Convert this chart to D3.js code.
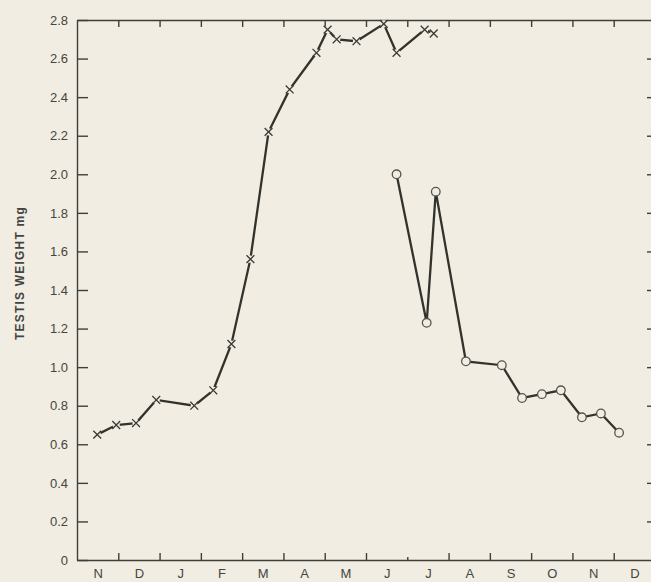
<!DOCTYPE html>
<html>
<head>
    <meta charset="utf-8">
    <title>Testis weight by month</title>
    <style>
        body { margin: 0; background: #f1ede2; }
        svg { display: block; }
        text { font-family: "Liberation Sans", Arial, sans-serif; fill: #444; }
        .axis path, .axis line { stroke: #3f3f3a; stroke-width: 1.4; }
        .axis text { font-size: 13px; fill: #454540; }
    </style>
</head>
<body>
    <svg width="651" height="582"></svg>
    <script src="https://d3js.org/d3.v7.min.js"></script>
    <script>
    // months along the bottom, Nov .. Dec of the next year
    var months = ["N", "D", "J", "F", "M", "A", "M", "J", "J", "A", "S", "O", "N", "D"];
    var weightTicks = [0, 0.2, 0.4, 0.6, 0.8, 1.0, 1.2, 1.4, 1.6, 1.8, 2.0, 2.2, 2.4, 2.6, 2.8];

    // x series: position in months from start of Nov, testis weight (mg)
    var crossMonth  = [0.49, 0.95, 1.43, 1.92, 2.84, 3.30, 3.74, 4.20, 4.64, 5.15, 5.80, 6.07, 6.29, 6.77, 7.43, 7.74, 8.42, 8.64];
    var crossWeight = [0.65, 0.70, 0.71, 0.83, 0.80, 0.88, 1.12, 1.56, 2.22, 2.44, 2.63, 2.75, 2.70, 2.69, 2.78, 2.63, 2.75, 2.73];

    // o series
    var circleMonth  = [7.74, 8.47, 8.69, 9.42, 10.29, 10.78, 11.26, 11.72, 12.23, 12.69, 13.13];
    var circleWeight = [2.00, 1.23, 1.91, 1.03, 1.01, 0.84, 0.86, 0.88, 0.74, 0.76, 0.66];

    var svg = d3.select("svg"),
        plotLeft = 77, plotRight = 655, plotTop = 20, plotBottom = 560,
        bg = "#f1ede2", ink = "#33332e";

    var x = d3.scaleLinear().domain([0, months.length]).range([plotLeft, plotRight]);
    var y = d3.scaleLinear().domain([0, 2.8]).range([plotBottom, plotTop]);

    var boundaries = d3.range(1, months.length);

    // left axis, ticks pointing in
    svg.append("g").attr("class", "axis")
        .attr("transform", "translate(" + plotLeft + ",0)")
        .call(d3.axisLeft(y).tickValues(weightTicks)
            .tickSizeInner(-11).tickSizeOuter(0).tickPadding(9)
            .tickFormat(function(d) { return d === 0 ? "0" : d.toFixed(1); }));

    // right axis, ticks only
    svg.append("g").attr("class", "axis")
        .attr("transform", "translate(" + plotRight + ",0)")
        .call(d3.axisRight(y).tickValues(weightTicks.slice(1, -1))
            .tickSizeInner(-8).tickSizeOuter(0).tickFormat(""));

    // top axis
    svg.append("g").attr("class", "axis")
        .attr("transform", "translate(0," + plotTop + ")")
        .call(d3.axisTop(x).tickValues(boundaries)
            .tickSizeInner(-7).tickSizeOuter(0).tickFormat(""));

    // bottom axis, month boundaries
    var bottomAxis = svg.append("g").attr("class", "axis")
        .attr("transform", "translate(0," + plotBottom + ")")
        .call(d3.axisBottom(x).tickValues(boundaries)
            .tickSizeInner(-7).tickSizeOuter(0).tickFormat(""));
    // the July tick is drawn shorter
    bottomAxis.selectAll(".tick line").filter(function(d) { return d === 8; }).attr("y2", -3);

    // month letters centred in each month
    svg.append("g").attr("class", "axis")
        .attr("transform", "translate(0," + plotBottom + ")")
        .call(d3.axisBottom(x).tickValues(d3.range(months.length).map(function(i) { return i + 0.5; }))
            .tickSize(0).tickPadding(9)
            .tickFormat(function(d) { return months[Math.floor(d)]; }))
        .call(function(g) { g.select(".domain").remove(); });

    svg.append("text")
        .attr("transform", "translate(24,273) rotate(-90)")
        .attr("text-anchor", "middle")
        .style("font-size", "12px")
        .style("font-weight", "bold")
        .style("letter-spacing", "1.2px")
        .text("TESTIS WEIGHT mg");

    var line = d3.line()
        .x(function(d) { return x(d[0]); })
        .y(function(d) { return y(d[1]); });

    var crosses = d3.zip(crossMonth, crossWeight);
    var circles = d3.zip(circleMonth, circleWeight);

    svg.append("path").datum(crosses)
        .attr("d", line).attr("fill", "none")
        .attr("stroke", ink).attr("stroke-width", 2.3);

    svg.append("path").datum(circles)
        .attr("d", line).attr("fill", "none")
        .attr("stroke", ink).attr("stroke-width", 2.3);

    // x markers: small gap in the line, then the cross
    var crossG = svg.append("g").selectAll("g").data(crosses).join("g")
        .attr("transform", function(d) { return "translate(" + x(d[0]) + "," + y(d[1]) + ")"; });
    crossG.append("circle").attr("r", 3.6).attr("fill", bg);
    crossG.append("path")
        .attr("d", d3.symbol().type(d3.symbolX || d3.symbolCross).size(42))
        .attr("fill", "none").attr("stroke", "#3a3a35").attr("stroke-width", 1.3);

    svg.append("g").selectAll("circle").data(circles).join("circle")
        .attr("cx", function(d) { return x(d[0]); })
        .attr("cy", function(d) { return y(d[1]); })
        .attr("r", 4.3)
        .attr("fill", bg)
        .attr("stroke", "#55554f")
        .attr("stroke-width", 1.3);
    </script>
</body>
</html>
